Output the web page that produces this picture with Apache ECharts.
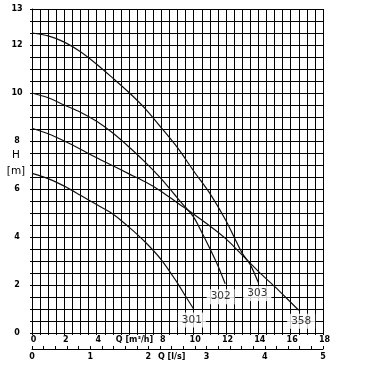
<!DOCTYPE html>
<html><head><meta charset="utf-8">
<script src="https://cdn.jsdelivr.net/npm/echarts@6/dist/echarts.min.js"></script>
<style>html,body{margin:0;padding:0;background:#fff}#c{width:374px;height:374px}</style>
</head><body><div id="c"></div>
<script>
// Q in m3/h, H in m
const q301 = [0,1,2,3,4,5,6,7,8,9,9.5,10];
const h301 = [6.65,6.43,6.12,5.74,5.35,4.96,4.41,3.79,3.05,2.08,1.53,1.0];
const q302 = [0,1,2,3,4,5,6,7,8,9,9.5,10,10.5,11,11.5,11.95];
const h302 = [10,9.8,9.5,9.2,8.82,8.33,7.75,7.12,6.42,5.62,5.23,4.83,4.2,3.52,2.8,2.05];
const q303 = [0,1,2,3,4,5,6,7,8,9,10,11,12,12.5,13,13.5,14];
const h303 = [12.5,12.38,12.12,11.72,11.2,10.62,10.02,9.35,8.55,7.72,6.75,5.82,4.68,4.0,3.33,2.85,2.1];
const q358 = [0,1,2,3,4,5,6,7,8,9,10,11,12,13,14,15,16,16.5];
const h358 = [8.53,8.3,8.0,7.66,7.3,6.97,6.63,6.3,5.9,5.42,4.95,4.46,3.92,3.25,2.57,1.94,1.28,0.95];

const curveNames = ['301','302','303','358'];
const labelQ = [9.89, 11.67, 13.94, 16.65];
const labelH = [0.54, 1.51, 1.64, 0.49];

const qTickLabels = {0:'0',2:'2',4:'4',6:'Q [m³/h]',8:'8',10:'10',12:'12',14:'14',16:'16',18:'18'};
const lsTickLabels = {0:'0',1:'1',2:'2',2.4:'Q [l/s]',3:'3',4:'4',5:'5'};
const hTickLabels = {0:'0',2:'2',4:'4',6:'6',8:'8',10:'10',12:'12',13.5:'13'};

function pick(map, v){
  for (const k in map){ if (Math.abs(parseFloat(k)-v) < 1e-6) return map[k]; }
  return '';
}
const pairs = (q,h) => q.map((x,i)=>[x,h[i]]);

const lblFont = {fontFamily:'DejaVu Sans', fontWeight:'bold', fontSize:8, color:'#000'};
const chart = echarts.init(document.getElementById('c'), null, {renderer:'canvas'});
chart.setOption({
  animation:false,
  grid:{left:32, top:9, width:291, height:324, containLabel:false, outerBoundsMode:'none'},
  xAxis:[{
    type:'value', min:0, max:18, interval:0.5, position:'bottom',
    axisLine:{show:true, onZero:false, lineStyle:{color:'#000', width:1}},
    axisTick:{show:true, length:2, lineStyle:{color:'#000'}},
    splitLine:{show:true, showMinLine:true, showMaxLine:true, lineStyle:{color:'#000', width:1}},
    axisLabel:Object.assign({interval:0, margin:3, showMinLabel:true, showMaxLabel:true,
      padding:[0,0,0,3], hideOverlap:false,
      formatter:v=>{const s=pick(qTickLabels,v); return s.startsWith('Q')?'{q|'+s+'}':s;},
      rich:{q:Object.assign({padding:[0,0,0,8]}, lblFont)}}, lblFont)
  },{
    type:'value', min:0, max:5, interval:0.2, position:'bottom', offset:16,
    axisLine:{show:true, onZero:false, lineStyle:{color:'#000', width:1}},
    axisTick:{show:true, inside:true, length:3, lineStyle:{color:'#000'}},
    splitLine:{show:false},
    axisLabel:Object.assign({interval:0, margin:4, showMinLabel:true, showMaxLabel:true,
      hideOverlap:false, formatter:v=>pick(lsTickLabels,v)}, lblFont)
  }],
  yAxis:{
    type:'value', min:0, max:13.5, interval:0.5,
    axisLine:{show:true, onZero:false, lineStyle:{color:'#000', width:1}},
    axisTick:{show:true, length:2, lineStyle:{color:'#000'}},
    splitLine:{show:true, showMinLine:true, showMaxLine:true, lineStyle:{color:'#000', width:1}},
    axisLabel:Object.assign({interval:0, margin:15, align:'center', padding:[0,0,3,0],
      showMinLabel:true, showMaxLabel:true, hideOverlap:false,
      formatter:v=>pick(hTickLabels,v)}, lblFont),
    name:'H\n[m]\n ', nameLocation:'middle', nameGap:16, nameRotate:0, nameMoveOverlap:false,
    nameTextStyle:{fontFamily:'DejaVu Sans', fontSize:10.5, color:'#000', align:'center',
      verticalAlign:'middle', lineHeight:16}
  },
  series:[
    {type:'line', data:pairs(q301,h301), smooth:0.3, symbol:'none', lineStyle:{color:'#111', width:1.2}},
    {type:'line', data:pairs(q302,h302), smooth:0.3, symbol:'none', lineStyle:{color:'#111', width:1.2}},
    {type:'line', data:pairs(q303,h303), smooth:0.3, symbol:'none', lineStyle:{color:'#111', width:1.2}},
    {type:'line', data:pairs(q358,h358), smooth:0.3, symbol:'none', lineStyle:{color:'#111', width:1.2}},
    {type:'scatter', symbolSize:0, z:10,
      data:curveNames.map((n,i)=>({value:[labelQ[i],labelH[i]], name:n})),
      label:{show:true, position:'inside', formatter:p=>p.name,
        fontFamily:'DejaVu Sans', fontSize:10.5, color:'#000',
        backgroundColor:'#fff', padding:[2,4,2,4]}}
  ]
});
</script></body></html>
